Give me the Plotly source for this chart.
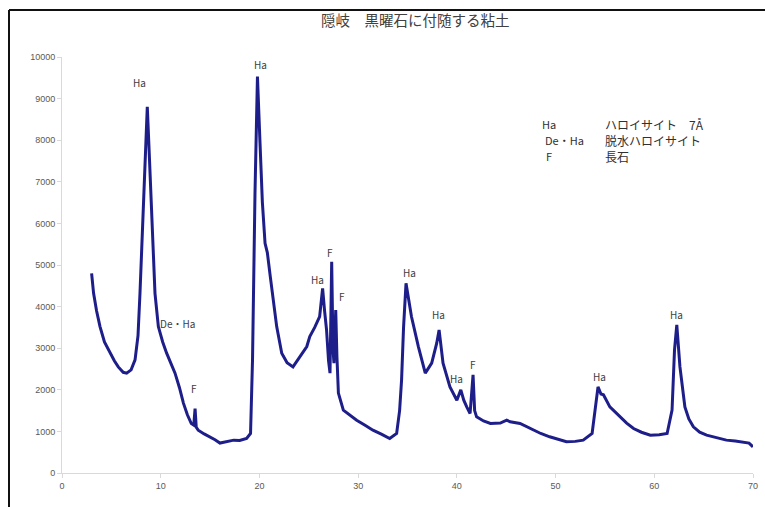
import plotly.graph_objects as go

# 2θ (degrees) and intensity
two_theta = [3.0, 3.2, 3.5, 3.85, 4.3, 4.86, 5.3, 5.7, 6.2, 6.55, 7.0, 7.4, 7.7, 7.9, 8.1, 8.24, 8.45, 8.64,
             8.8, 8.98, 9.2, 9.42, 9.76, 10.2, 10.6, 11.0, 11.45, 11.9, 12.3, 12.7, 13.1, 13.35, 13.48, 13.6,
             13.8, 14.4, 15.0, 15.5, 16.0, 16.7, 17.4, 18.0, 18.7, 19.1, 19.3, 19.55, 19.8, 20.06, 20.3, 20.57,
             20.8, 21.1, 21.4, 21.75, 22.26, 22.8, 23.4, 24.1, 24.8, 25.1, 25.6, 26.1, 26.4, 26.6, 26.8, 27.0,
             27.15, 27.32, 27.45, 27.55, 27.73, 27.85, 28.0, 28.5, 29.2, 29.85, 30.7, 31.5, 32.4, 33.2, 33.9,
             34.2, 34.4, 34.6, 34.85, 35.1, 35.4, 36.1, 36.8, 37.45, 37.96, 38.2, 38.4, 38.6, 39.3, 40.0, 40.4,
             40.7, 41.0, 41.34, 41.64, 41.8, 42.0, 42.7, 43.4, 44.4, 45.05, 45.4, 46.4, 47.75, 48.5, 49.4, 50.3,
             51.1, 52.0, 52.8, 53.7, 54.0, 54.3, 54.6, 54.85, 55.5, 56.5, 57.2, 57.9, 58.7, 59.6, 60.5, 61.3,
             61.8, 62.05, 62.28, 62.6, 63.1, 63.5, 63.96, 64.6, 65.3, 66.3, 67.3, 68.2, 69.0, 69.6, 70.0]
intensity = [4800, 4320, 3900, 3520, 3150, 2880, 2700, 2550, 2420, 2400, 2480, 2720, 3300, 4320, 5500, 6320, 7800, 8800,
             7900, 6720, 5300, 4320, 3520, 3150, 2880, 2650, 2400, 2050, 1680, 1400, 1190, 1150, 1550, 1100,
             1030, 940, 870, 800, 720, 760, 790, 780, 830, 950, 2720, 6720, 9530, 7930, 6500, 5520,
             5300, 4720, 4100, 3520, 2880, 2650, 2550, 2800, 3040, 3280, 3500, 3760, 4440, 3900, 3440, 2700,
             2400, 5080, 3000, 2640, 3920, 2800, 1920, 1510, 1380, 1270, 1150, 1030, 930, 830, 950,
             1500, 2240, 3500, 4560, 4200, 3760, 3040, 2400, 2640, 3120, 3440, 3000, 2640, 2070, 1750, 2000,
             1750, 1590, 1430, 2360, 1500, 1350, 1250, 1190, 1200, 1270, 1230, 1190, 1030, 950, 870, 800,
             750, 760, 790, 950, 1510, 2070, 1900, 1880, 1590, 1350, 1200, 1070, 980, 910, 920, 950,
             1510, 2960, 3560, 2550, 1590, 1300, 1110, 980, 910, 850, 790, 770, 750, 720, 630]

# peak labels
peak_text = ["Ha", "Ha", "De・Ha", "F", "Ha", "F", "F", "Ha", "Ha", "Ha", "F", "Ha", "Ha"]
peak_x = [7.9, 20.06, 11.75, 13.4, 25.9, 27.15, 28.4, 35.2, 38.1, 40.0, 41.6, 54.4, 62.3]
peak_y = [9380, 9830, 3600, 2040, 4640, 5310, 4250, 4830, 3800, 2280, 2620, 2310, 3800]

# key text
key_codes = ["Ha", "De・Ha", "F"]
key_names = ["ハロイサイト　7Å", "脱水ハロイサイト", "長石"]

title_text = "隠岐　黒曜石に付随する粘土"

W, H = 765, 507
L, R, T, B = 62, 12, 57, 34
pw, ph = W - L - R, H - T - B


def px(x):
    return (x - L) / pw


def py(y):
    return (H - B - y) / ph


fig = go.Figure()
fig.add_trace(go.Scatter(x=two_theta, y=intensity, mode="lines",
                         line=dict(color="#1e1e8a", width=3), hoverinfo="skip"))

jp = "Noto Sans CJK JP"
ann = []
for t, x, y in zip(peak_text, peak_x, peak_y):
    ann.append(dict(x=x, y=y, xref="x", yref="y", text=t, showarrow=False,
                    font=dict(family=jp, size=10, color="#404040"), xanchor="center", yanchor="middle"))

key_y = [124, 140, 156]
key_cx = [549, 564, 549]
for code, name, yy, cx in zip(key_codes, key_names, key_y, key_cx):
    ann.append(dict(x=px(cx), y=py(yy), xref="paper", yref="paper", text=code, showarrow=False,
                    font=dict(family=jp, size=11, color="#303030"), xanchor="center", yanchor="middle"))
    ann.append(dict(x=px(603), y=py(yy), xref="paper", yref="paper", text=name, showarrow=False,
                    font=dict(family=jp, size=12, color="#303030"), xanchor="left", yanchor="middle"))

ann.append(dict(x=px(415), y=py(20), xref="paper", yref="paper", text=title_text, showarrow=False,
                font=dict(family=jp, size=14.5, color="#404040"), xanchor="center", yanchor="middle"))

shapes = [
    dict(type="line", xref="paper", yref="paper", x0=px(9), x1=px(766), y0=py(10), y1=py(10),
         line=dict(color="#111111", width=2)),
    dict(type="line", xref="paper", yref="paper", x0=px(9), x1=px(9), y0=py(10), y1=py(508),
         line=dict(color="#111111", width=2)),
]

fig.update_layout(
    width=W, height=H,
    margin=dict(l=L, r=R, t=T, b=B, autoexpand=False),
    paper_bgcolor="white", plot_bgcolor="white",
    showlegend=False,
    annotations=ann,
    shapes=shapes,
    font=dict(family="Liberation Sans", color="#595959"),
)
fig.update_xaxes(range=[0, 70], tickvals=[0, 10, 20, 30, 40, 50, 60, 70], showgrid=False, zeroline=False,
                 showline=True, linecolor="#d9d9d9", linewidth=1, ticks="outside", ticklen=4, automargin=False,
                 tickcolor="#d9d9d9", tickfont=dict(size=9, color="#595959"))
fig.update_yaxes(range=[0, 10000], tickvals=list(range(0, 10001, 1000)), tickformat="d", automargin=False,
                 showgrid=False, zeroline=False,
                 showline=True, linecolor="#d9d9d9", linewidth=1, ticks="outside", ticklen=4,
                 tickcolor="#d9d9d9", tickfont=dict(size=9, color="#595959"))

fig.write_html("out.html", config={"displayModeBar": False},
               post_script="document.body.style.margin='0';document.body.style.overflow='hidden';")
